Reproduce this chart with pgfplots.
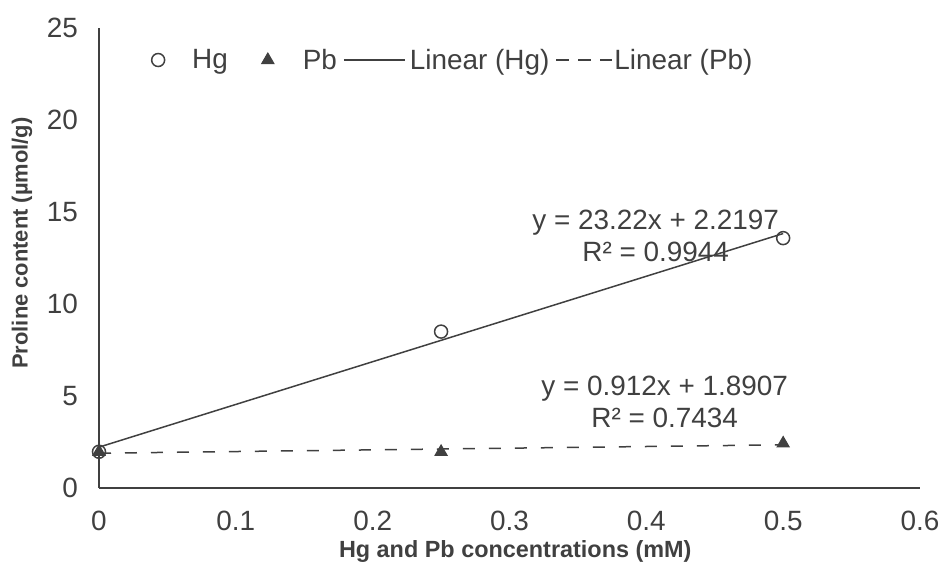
\documentclass[border=0pt]{standalone}
\usepackage{fontspec}
\setmainfont{Liberation Sans}
\usepackage{pgfplots}
\pgfplotsset{compat=1.18}
\definecolor{ink}{HTML}{404040}
\pgfplotsset{
  hgleg/.style={legend image code/.code={\path[draw=none,fill=none] (0bp,0bp) -- (52bp,0bp); \draw[##1] plot coordinates {(18bp,0bp)};}},
  pbleg/.style={legend image code/.code={\path[draw=none,fill=none] (0bp,0bp) -- (75bp,0bp); \draw[##1] plot coordinates {(40bp,0bp)};}},
  lhgleg/.style={legend image code/.code={\path[draw=none,fill=none] (0bp,0bp) -- (73bp,0bp); \draw[##1] (7bp,0bp) -- (68bp,0bp);}},
  lpbleg/.style={legend image code/.code={\path[draw=none,fill=none] (0bp,0bp) -- (65bp,0bp); \draw[##1, dash pattern=on 13bp off 9bp] (7bp,0bp) -- (63bp,0bp);}},
}
\begin{document}
\begin{tikzpicture}
\begin{axis}[
  scale only axis, width=821bp, height=460bp,
  xmin=0, xmax=0.6, ymin=0, ymax=25,
  clip=false,
  axis x line*=bottom, axis y line*=left,
  axis line style={ink, line width=1.5bp, -},
  xtick={0,0.1,0.2,0.3,0.4,0.5,0.6},
  xticklabels={0,0.1,0.2,0.3,0.4,0.5,0.6},
  ytick={0,5,10,15,20,25},
  major tick length=0pt,
  /pgf/number format/assume math mode=true,
  tick label style={font=\fontsize{28}{32}\selectfont, text=ink},
  yticklabel style={inner sep=0pt, anchor=east, xshift=-21bp},
  xticklabel style={inner sep=0pt, anchor=north, yshift=-23bp},
  xlabel={Hg and Pb concentrations (mM)},
  ylabel={Proline content (µmol/g)},
  label style={text=ink},
  xlabel style={font=\bfseries\fontsize{23.5}{27}\selectfont, at={(axis description cs:0.507,-0.139)}, anchor=center},
  ylabel style={font=\bfseries\fontsize{22}{26}\selectfont, at={(axis description cs:-0.0938,0.5326)}, anchor=center},
  legend columns=4,
  legend cell align=left,
  legend style={at={(axis description cs:0.0499,0.9304)}, anchor=west,
    draw=none, fill=none, inner sep=0pt, text=ink,
    font=\fontsize{28}{32}\selectfont,
    nodes={inner sep=0pt},
    /tikz/every even column/.style={column sep=0pt}},
]
\addplot[only marks, mark=o, mark size=6.5bp, ink, line width=1.5bp, hgleg]
  coordinates {(0,1.97) (0.25,8.5) (0.5,13.58)};
\addplot[only marks, mark=triangle*, mark size=7bp, ink, line width=1bp, pbleg]
  coordinates {(0,1.97) (0.25,1.96) (0.5,2.42)};
\addplot[ink, line width=1.5bp, lhgleg]
  coordinates {(0,2.2197) (0.5,13.8297)};
\addplot[ink, line width=1.5bp, dash pattern=on 12bp off 14bp, lpbleg]
  coordinates {(0,1.8907) (0.5,2.3467)};
\legend{Hg, Pb, Linear (Hg), Linear (Pb)}
\node[align=center, font=\fontsize{28}{32}\selectfont, text=ink] at (axis cs:0.4068,13.70) {y = 23.22x + 2.2197\\R² = 0.9944};
\node[align=center, font=\fontsize{28}{32}\selectfont, text=ink] at (axis cs:0.4134,4.70) {y = 0.912x + 1.8907\\R² = 0.7434};
\end{axis}
\pgfresetboundingbox
\path (-99bp,-80bp) rectangle (844bp,488bp);
\end{tikzpicture}
\end{document}
